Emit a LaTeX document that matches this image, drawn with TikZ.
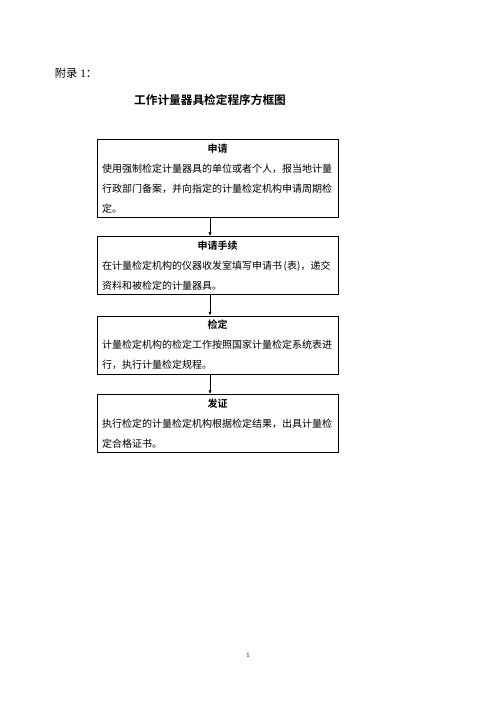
\documentclass[tikz,border=0pt]{standalone}
\usepackage{fontspec}
\setmainfont{Liberation Serif}
\newfontfamily\cjk[BoldFont={Noto Sans CJK SC Bold}]{Noto Sans CJK SC}
\usetikzlibrary{arrows.meta}
\newcommand{\boxhead}[1]{\makebox[\linewidth]{\bfseries #1}}

\begin{document}
\begin{tikzpicture}[x=1.2pt,y=-1.2pt,
  stepbox/.style={draw,line width=0.9pt,anchor=north,text width=277pt,
    inner xsep=6pt,inner ysep=5pt,align=left,
    font=\cjk\fontsize{12pt}{24pt}\selectfont},
  flow/.style={line width=0.8pt,-{Latex[length=4.5pt,width=4pt]}}]
\useasboundingbox (0,0) rectangle (496,702);
\node[anchor=west,font=\fontsize{13.5pt}{16pt}\selectfont] (appendix) at (52,73) {{\cjk 附录} 1{\cjk ：}};
\node[font=\cjk\bfseries\fontsize{14pt}{16pt}\selectfont] (title) at (210,100) {工作计量器具检定程序方框图};
% the four steps
\node[stepbox] (apply) at (217.5,139) {\boxhead{申请}\\
使用强制检定计量器具的单位或者个人，报当地计量\\
行政部门备案，并向指定的计量检定机构申请周期检\\
定。};
\node[stepbox] (procedure) at (217.5,236) {\boxhead{申请手续}\\
在计量检定机构的仪器收发室填写申请书\,(表)，递交\\
资料和被检定的计量器具。};
\node[stepbox] (verify) at (217.5,315.5) {\boxhead{检定}\\
计量检定机构的检定工作按照国家计量检定系统表进\\
行，执行计量检定规程。};
\node[stepbox] (certify) at (217.5,394) {\boxhead{发证}\\
执行检定的计量检定机构根据检定结果，出具计量检\\
定合格证书。};
\draw[flow] ([xshift=-9pt]apply.south) -- ([xshift=-9pt]procedure.north);
\draw[flow] ([xshift=-9pt]procedure.south) -- ([xshift=-9pt]verify.north);
\draw[flow] ([xshift=-9pt]verify.south) -- ([xshift=-9pt]certify.north);
\node[font=\fontsize{8pt}{10pt}\selectfont] (pageno) at (248,655) {1};
\end{tikzpicture}
\end{document}
